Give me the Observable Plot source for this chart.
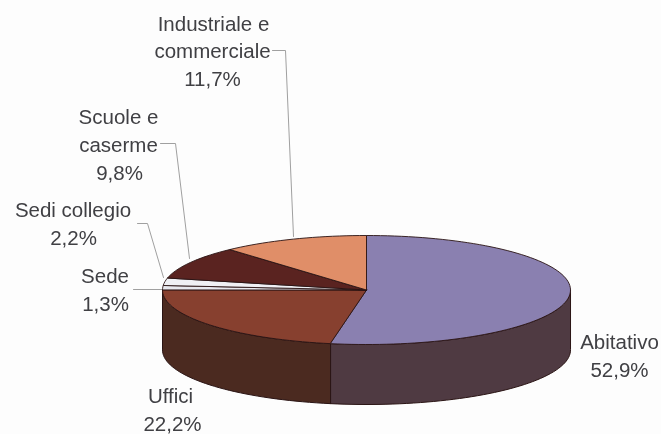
<!DOCTYPE html>
<html><head><meta charset="utf-8">
<script src="https://cdn.jsdelivr.net/npm/d3@7"></script>
<script src="https://cdn.jsdelivr.net/npm/@observablehq/plot@0.6"></script>
<style>html,body{margin:0;padding:0;background:#fdfdfd}svg{display:block;filter:blur(0.5px)}</style>
</head><body><div id="chart"></div>
<script>
const categories = ["Abitativo","Uffici","Sede","Sedi collegio","Scuole e caserme","Industriale e commerciale"];
const shares = [52.9,22.2,1.3,2.2,9.8,11.7];
const shareLabels = ["52,9%","22,2%","1,3%","2,2%","9,8%","11,7%"];
const topColors = ["#8a80b0","#87402f","#e8e8ee","#f0f0f4","#5a2320","#e08e68"];
const wallColors = ["#4f3a42","#4b2a20"];

const W=661,H=434,cx=366,cy=289.5,rx=204,ry=54.5,depth=60;
const total=d3.sum(shares);
const pt=(deg,off=0)=>{const t=deg*Math.PI/180;return {x:cx+rx*Math.sin(t),y:cy-ry*Math.cos(t)+off};};
let acc=0;
const slices=shares.map((v,i)=>{const a0=acc/total*360;acc+=v;const a1=acc/total*360;return {i,a0,a1};});
const arc=(a0,a1,off=0)=>{const n=Math.max(2,Math.ceil((a1-a0)/2));return d3.range(n+1).map(k=>pt(a0+(a1-a0)*k/n,off));};
const topPoly=s=>[{x:cx,y:cy},...arc(s.a0,s.a1),{x:cx,y:cy}];
const wallPoly=(a0,a1)=>[...arc(a0,a1),...arc(a0,a1,depth).reverse()];
const a0=slices[0],a1=slices[1];
const edge="#2a1414";
const poly=(p,fill,sw=1)=>Plot.line(p,{x:"x",y:"y",fill,stroke:edge,strokeWidth:sw,curve:"linear-closed"});

const leaders=[
 [[272,50],[285,50],[293,236]],
 [[160,143],[175,143],[189,258]],
 [[137,223],[147,223],[163,277]],
 [[133,289],[165,289]]
].map(l=>l.map(([x,y])=>({x,y})));
const labelLines=[
 {t:"Industriale e",x:213,y:24},{t:"commerciale",x:212,y:51},{t:shareLabels[5],x:212,y:79},
 {t:"Scuole e",x:118,y:117},{t:"caserme",x:118,y:145},{t:shareLabels[4],x:119,y:173},
 {t:categories[3],x:72.5,y:210},{t:shareLabels[3],x:73,y:238},
 {t:categories[2],x:104.5,y:276},{t:shareLabels[2],x:105,y:304},
 {t:categories[0],x:619,y:342},{t:shareLabels[0],x:619,y:370},
 {t:categories[1],x:170,y:396},{t:shareLabels[1],x:172,y:424}
];

const plot=Plot.plot({
 width:W,height:H,margin:0,
 x:{domain:[0,W],range:[0,W],axis:null},
 y:{domain:[0,H],range:[0,H],axis:null},
 style:{background:"#fdfdfd",fontFamily:"'Liberation Sans',Arial,sans-serif"},
 marks:[
  ...leaders.map(l=>Plot.line(l,{x:"x",y:"y",stroke:"#a0a0a0",strokeWidth:1})),
  poly(wallPoly(a0.a0<90?90:a0.a0,a0.a1),wallColors[0]),
  poly(wallPoly(a1.a0,a1.a1),wallColors[1]),
  ...slices.map(s=>poly(topPoly(s),topColors[s.i],0.9)),
  Plot.text(labelLines,{x:"x",y:"y",text:"t",fontSize:20.5,fill:"#404044",textAnchor:"middle",lineAnchor:"middle"})
 ]
});
document.getElementById("chart").append(plot);
</script></body></html>
